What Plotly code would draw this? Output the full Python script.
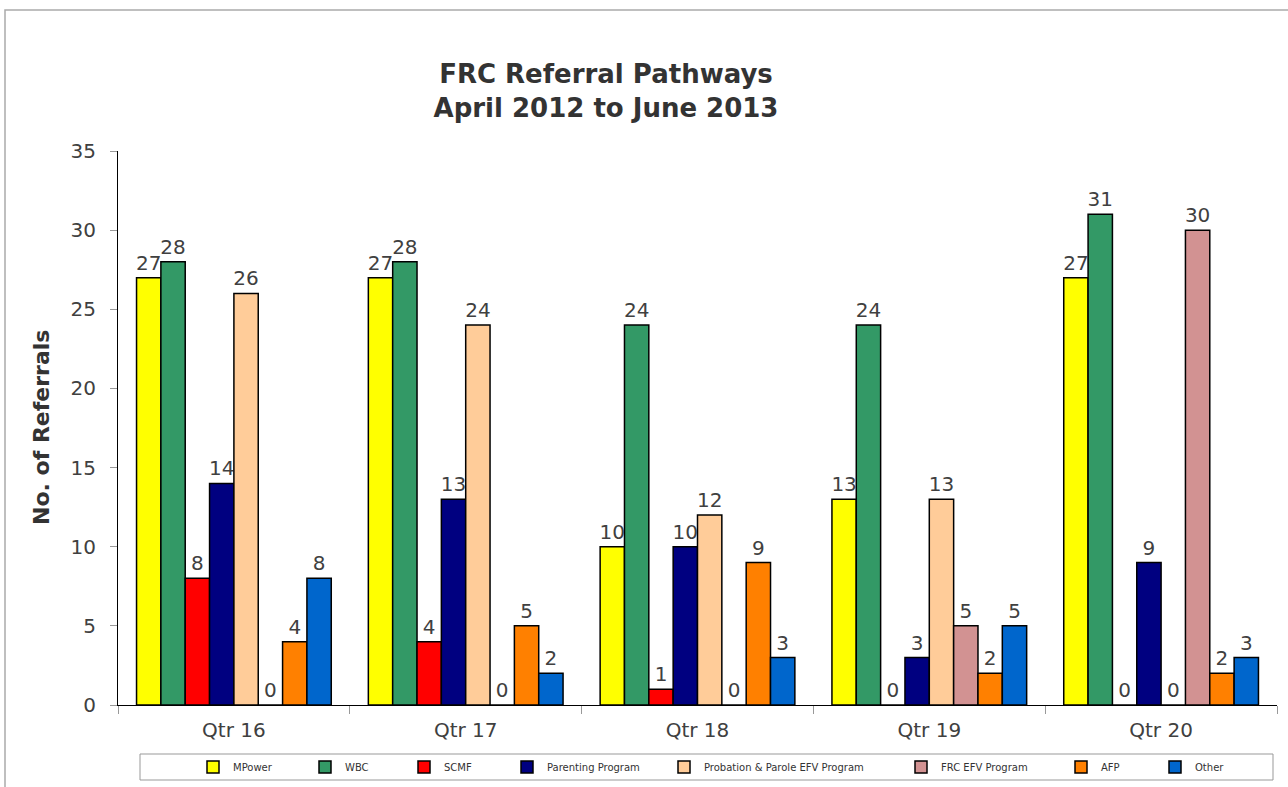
import plotly.graph_objects as go

quarters = ["Qtr 16", "Qtr 17", "Qtr 18", "Qtr 19", "Qtr 20"]
series_names = ["MPower", "WBC", "SCMF", "Parenting Program",
                "Probation & Parole EFV Program", "FRC EFV Program", "AFP", "Other"]
mpower = [27, 27, 10, 13, 27]
wbc = [28, 28, 24, 24, 31]
scmf = [8, 4, 1, 0, 0]
parenting = [14, 13, 10, 3, 9]
probation = [26, 24, 12, 13, 0]
frc_efv = [0, 0, 0, 5, 30]
afp = [4, 5, 9, 2, 2]
other = [8, 2, 3, 5, 3]
series_values = [mpower, wbc, scmf, parenting, probation, frc_efv, afp, other]
colors = ["#FFFF00", "#339966", "#FF0000", "#000080",
          "#FFCC99", "#D29292", "#FF8000", "#0066CC"]
y_ticks = [0, 5, 10, 15, 20, 25, 30, 35]

W, H = 1288, 787
L, R, T, B = 118, 11, 151, 82
pw, ph = W - L - R, H - T - B

def px_x(p):
    return (p - L) / pw

def px_y(p):
    return (H - B - p) / ph

# legend square left positions in the reference (px)
legend_sq = [212, 324, 423, 526, 683, 920, 1080, 1174]

fig = go.Figure()
for i, (name, vals, col) in enumerate(zip(series_names, series_values, colors)):
    lg = "legend" if i == 0 else f"legend{i+1}"
    fig.add_trace(go.Bar(
        x=quarters, y=vals, name=name,
        marker=dict(color=col, line=dict(color="#000000", width=1.5)),
        text=[str(v) for v in vals], textposition="outside",
        textfont=dict(family="DejaVu Sans", size=20, color="#404040"),
        constraintext="none", cliponaxis=False,
        legend=lg,
    ))

layout_legends = {}
for i, sq in enumerate(legend_sq):
    key = "legend" if i == 0 else f"legend{i+1}"
    layout_legends[key] = dict(
        x=px_x(sq - 19), xanchor="left",
        y=px_y(767), yanchor="middle",
        bgcolor="rgba(0,0,0,0)", borderwidth=0,
        font=dict(family="DejaVu Sans", size=10, color="#333333"),
        itemwidth=30,
    )

fig.update_layout(
    width=W, height=H,
    margin=dict(l=L, r=R, t=T, b=B, autoexpand=False),
    paper_bgcolor="white", plot_bgcolor="white",
    barmode="group", bargap=0.16, bargroupgap=0,
    showlegend=True,
    title=dict(
        text="<b>FRC Referral Pathways<br>April 2012 to June 2013</b>",
        x=606 / W, xanchor="center", xref="container",
        y=1 - 83 / H, yanchor="top", yref="container",
        font=dict(family="DejaVu Sans", size=26, color="#333333"),
    ),
    xaxis=dict(
        type="category", showline=True, linecolor="#000000", linewidth=1,
        ticks="outside", tickson="boundaries", ticklen=8, tickcolor="#999999",
        tickfont=dict(family="DejaVu Sans", size=20, color="#404040"),
        ticklabelstandoff=7, showgrid=False, zeroline=False,
    ),
    yaxis=dict(
        range=[0, 35], tickvals=y_ticks, showline=True, linecolor="#000000", linewidth=1,
        ticks="outside", ticklen=7, tickcolor="#999999",
        tickfont=dict(family="DejaVu Sans", size=20, color="#404040"),
        ticklabelstandoff=10, showgrid=False, zeroline=False,
    ),
    annotations=[
        dict(text="<b>No. of Referrals</b>", textangle=-90,
             xref="paper", yref="paper", x=px_x(41), y=0.5,
             xanchor="center", yanchor="middle", showarrow=False,
             font=dict(family="DejaVu Sans", size=22, color="#333333")),
    ],
    shapes=[
        dict(type="rect", xref="paper", yref="paper",
             x0=px_x(5), x1=px_x(1400), y0=px_y(900), y1=px_y(10),
             line=dict(color="#AAAAAA", width=1.5), fillcolor="rgba(0,0,0,0)", layer="below"),
        dict(type="rect", xref="paper", yref="paper",
             x0=px_x(140), x1=px_x(1273), y0=px_y(780), y1=px_y(754),
             line=dict(color="#999999", width=1), fillcolor="rgba(0,0,0,0)", layer="below"),
    ],
    **layout_legends,
)

fig.write_html(
    "out.html",
    config={"displayModeBar": False},
    post_script="document.body.style.margin='0';document.body.style.overflow='hidden';",
)
